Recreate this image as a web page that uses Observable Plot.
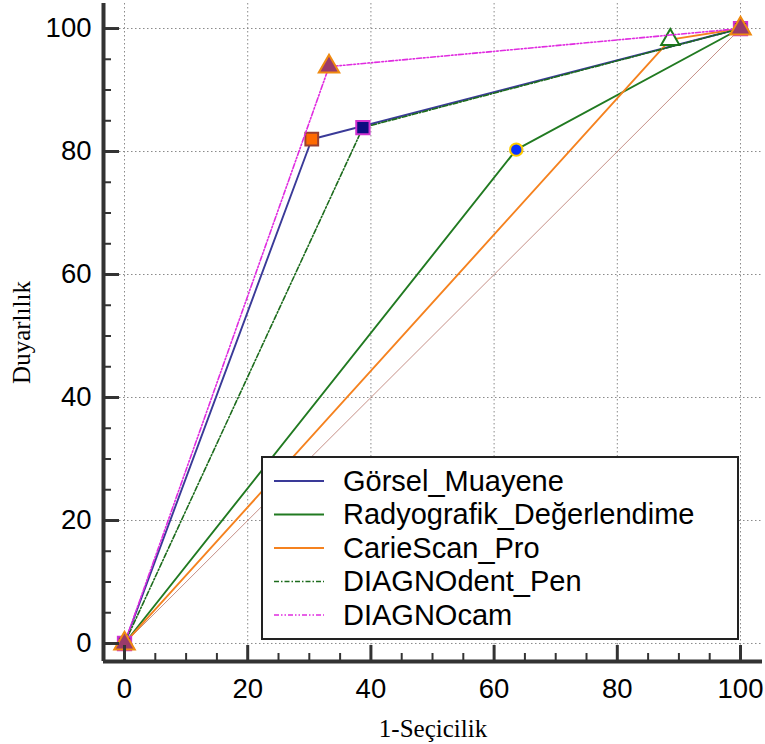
<!DOCTYPE html>
<html>
<head>
<meta charset="utf-8">
<script src="https://cdn.jsdelivr.net/npm/d3@7"></script>
<script src="https://cdn.jsdelivr.net/npm/@observablehq/plot@0.6"></script>
<style>
  body { margin: 0; background: #fff; }
  #wrap { position: relative; width: 765px; height: 744px; overflow: hidden; }
  #legend { position: absolute; left: 261px; top: 456px; }
</style>
</head>
<body>
<div id="wrap"></div>
<script>
// ---- data ----
const systems = ["Görsel_Muayene", "Radyografik_Değerlendime", "CarieScan_Pro", "DIAGNOdent_Pen", "DIAGNOcam"];
const fpr = [
  [0, 30.4, 100],
  [0, 63.6, 100],
  [0, 88.6, 100],
  [0, 38.7, 100],
  [0, 33.2, 100]
];
const tpr = [
  [0, 82.0, 100],
  [0, 80.3, 100],
  [0, 98.2, 100],
  [0, 83.9, 100],
  [0, 93.8, 100]
];
const diagonal = [0, 100];
const majorTicks = [0, 20, 40, 60, 80, 100];
const minorTicks = [5, 10, 15, 25, 30, 35, 45, 50, 55, 65, 70, 75, 85, 90, 95];
const xTitle = "1-Seçicilik";
const yTitle = "Duyarlılık";

// ---- styles ----
const lineColors = ["#3a3a98", "#217a21", "#f5821f", "#1c6b1c", "#e02ce0"];
const lineDash = [null, null, null, "5,2,1.5,2", "5,2,1.5,2,1.5,2"];
const lineWidth = [1.9, 1.9, 1.9, 1.6, 1.6];
const markSymbol = ["square", "circle", "triangle", "square", "triangle"];
const markR = [7.2, 6.2, 6.8, 7.5, 7.6];
const markFill = ["#ff6a00", "#0a32ff", "#ffffff", "#0c0c80", "#9a3a6a"];
const markStroke = ["#9a4030", "#ffcc00", "#1c7a1c", "#d030d0", "#f08a10"];

// ---- table ----
const rows = systems.flatMap((s, i) => fpr[i].map((v, j) => ({ system: s, i, x: v, y: tpr[i][j] })));
const diagRows = diagonal.map(v => ({ x: v, y: v }));

const xMin = -3.41, xMax = 103.57, yMin = -2.93, yMax = 104.07;

const seriesMarks = systems.flatMap((s, i) => {
  const d = rows.filter(r => r.i === i);
  return [
    Plot.line(d, { x: "x", y: "y", stroke: lineColors[i], strokeWidth: lineWidth[i], strokeDasharray: lineDash[i] || undefined }),
    Plot.dot(d, { x: "x", y: "y", symbol: () => markSymbol[i], r: markR[i], fill: markFill[i], stroke: markStroke[i], strokeWidth: 2 })
  ];
});

const chart = Plot.plot({
  width: 765,
  height: 744,
  marginLeft: 103,
  marginRight: 3,
  marginTop: 3,
  marginBottom: 83,
  x: { domain: [xMin, xMax] },
  y: { domain: [yMin, yMax] },
  style: { fontFamily: "'Liberation Sans', Arial, sans-serif", fontSize: "27.5px", color: "#000", background: "#fff" },
  marks: [
    Plot.gridX(majorTicks, { stroke: "#8a8a8a", strokeOpacity: 1, strokeWidth: 1, strokeDasharray: "1.5,2.5" }),
    Plot.gridY(majorTicks, { stroke: "#8a8a8a", strokeOpacity: 1, strokeWidth: 1, strokeDasharray: "1.5,2.5" }),
    Plot.line(diagRows, { x: "x", y: "y", stroke: "#b87468", strokeWidth: 0.8 }),
    ...seriesMarks,
    Plot.ruleX([xMin], { stroke: "#333", strokeWidth: 4 }),
    Plot.ruleY([yMin], { stroke: "#333", strokeWidth: 4 }),
    Plot.axisX(minorTicks, { tickSize: -8, tickFormat: () => "", label: null, stroke: "#333", strokeWidth: 2 }),
    Plot.axisX(majorTicks, { tickSize: -16, tickFormat: () => "", label: null, stroke: "#333", strokeWidth: 3 }),
    Plot.axisX(majorTicks, { tickSize: 0, tickPadding: 17, label: null, fontSize: 27.5, fill: "#000" }),
    Plot.axisY(minorTicks, { tickSize: -8, tickFormat: () => "", label: null, stroke: "#333", strokeWidth: 2 }),
    Plot.axisY(majorTicks, { tickSize: -16, tickFormat: () => "", label: null, stroke: "#333", strokeWidth: 3 }),
    Plot.axisY(majorTicks, { tickSize: 0, tickPadding: 12, label: null, fontSize: 27.5, fill: "#000" }),
    Plot.text([xTitle], { text: d => d, frameAnchor: "bottom", textAnchor: "middle", dy: 58, lineAnchor: "top", fontSize: 25, fontFamily: "'Liberation Serif', 'Times New Roman', serif", fill: "#000" }),
    Plot.text([yTitle], { text: d => d, frameAnchor: "left", textAnchor: "middle", dx: -91, rotate: -90, lineAnchor: "top", fontSize: 25, fontFamily: "'Liberation Serif', 'Times New Roman', serif", fill: "#000" })
  ]
});

const wrap = document.getElementById("wrap");
wrap.appendChild(chart);

// ---- legend (inside plot area, boxed) ----
const lg = d3.select(wrap).append("svg")
  .attr("id", "legend")
  .attr("width", 480)
  .attr("height", 186);
lg.append("rect").attr("x", 1).attr("y", 1).attr("width", 476).attr("height", 182)
  .attr("fill", "#fff").attr("stroke", "#222").attr("stroke-width", 2);
const rowBase = [34.5, 68, 101.5, 135, 168.5];
systems.forEach((s, i) => {
  lg.append("line")
    .attr("x1", 13).attr("x2", 63)
    .attr("y1", rowBase[i] - 9.5).attr("y2", rowBase[i] - 9.5)
    .attr("stroke", lineColors[i]).attr("stroke-width", lineWidth[i])
    .attr("stroke-dasharray", lineDash[i]);
  lg.append("text")
    .attr("x", 82).attr("y", rowBase[i])
    .attr("font-family", "'Liberation Sans', Arial, sans-serif")
    .attr("font-size", 29)
    .attr("fill", "#000")
    .text(s);
});
</script>
</body>
</html>
